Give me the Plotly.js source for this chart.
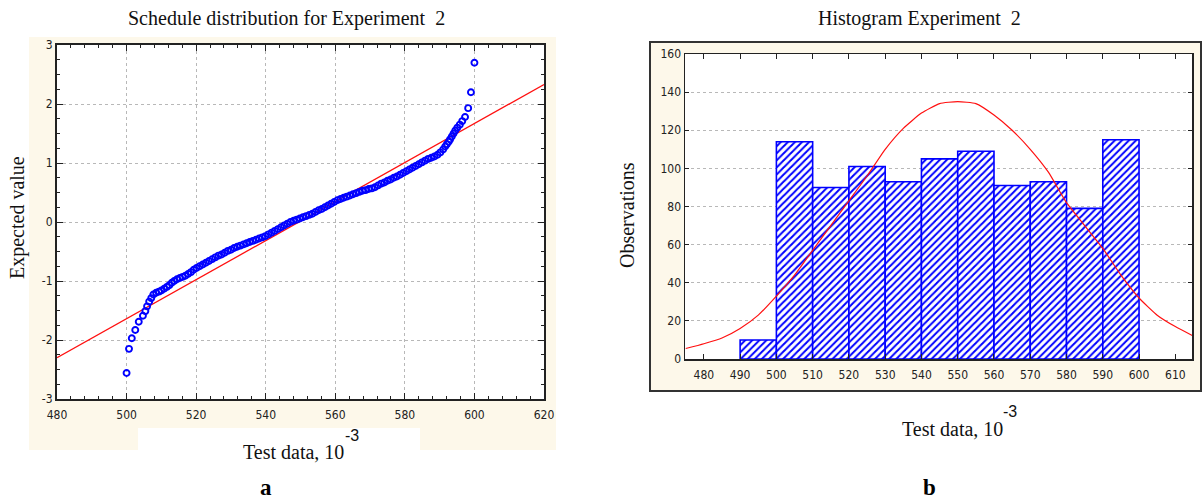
<!DOCTYPE html>
<html>
<head>
<meta charset="utf-8">
<script src="https://cdn.plot.ly/plotly-3.0.1.min.js"></script>
<style>
  html, body { margin: 0; padding: 0; background: #ffffff; }
  #chart { width: 1203px; height: 499px; }
</style>
</head>
<body>
<div id="chart"></div>
<script>
// ---------- Data ----------
// (a) normal probability plot: test data (x, in 10^-3) vs expected normal value
const qqX = [500.0, 500.7, 501.5, 502.5, 503.5, 504.7, 505.4, 505.9, 506.5, 507.1,
  507.7, 508.5, 509.3, 510.0, 510.8, 511.6, 512.3, 513.0, 513.7, 514.5,
  515.3, 516.1, 516.9, 517.7, 518.5, 519.3, 520.1, 521.0, 521.9, 522.8,
  523.7, 524.6, 525.5, 526.4, 527.3, 528.2, 529.1, 530.0, 530.9, 531.8,
  532.7, 533.6, 534.5, 535.4, 536.3, 537.2, 538.1, 539.0, 539.9, 540.8,
  541.7, 542.6, 543.5, 544.4, 545.3, 546.2, 547.1, 548.0, 548.9, 549.8,
  550.7, 551.6, 552.5, 553.4, 554.3, 555.2, 556.1, 557.0, 557.9, 558.8,
  559.7, 560.6, 561.5, 562.4, 563.3, 564.2, 565.1, 566.0, 566.9, 567.8,
  568.7, 569.6, 570.5, 571.4, 572.3, 573.2, 574.1, 575.0, 575.9, 576.8,
  577.7, 578.6, 579.5, 580.4, 581.3, 582.2, 583.1, 584.0, 584.9, 585.8,
  586.7, 587.6, 588.5, 589.4, 590.2, 591.0, 591.6, 592.1, 592.6, 593.0,
  593.5, 594.0, 594.5, 595.1, 595.8, 596.5, 597.3, 598.2, 599.0, 600.0];
const qqY = [-2.56, -2.15, -1.97, -1.83, -1.69, -1.59, -1.51, -1.43, -1.35, -1.29,
  -1.23, -1.20, -1.18, -1.16, -1.13, -1.10, -1.07, -1.03, -1.00, -0.97,
  -0.95, -0.93, -0.91, -0.88, -0.85, -0.81, -0.78, -0.75, -0.72, -0.69,
  -0.66, -0.63, -0.60, -0.57, -0.55, -0.52, -0.49, -0.47, -0.44, -0.42,
  -0.40, -0.38, -0.36, -0.34, -0.32, -0.30, -0.28, -0.26, -0.24, -0.21,
  -0.18, -0.15, -0.12, -0.09, -0.06, -0.03, 0.00, 0.02, 0.04, 0.06,
  0.08, 0.10, 0.12, 0.14, 0.17, 0.20, 0.22, 0.25, 0.28, 0.31,
  0.34, 0.37, 0.39, 0.41, 0.43, 0.45, 0.47, 0.49, 0.51, 0.53,
  0.54, 0.56, 0.57, 0.59, 0.62, 0.65, 0.67, 0.70, 0.72, 0.75,
  0.77, 0.80, 0.83, 0.86, 0.89, 0.92, 0.95, 0.98, 1.01, 1.04,
  1.07, 1.09, 1.11, 1.14, 1.18, 1.23, 1.28, 1.32, 1.36, 1.40,
  1.45, 1.50, 1.55, 1.60, 1.65, 1.71, 1.78, 1.93, 2.20, 2.70];
// reference (fitted) line of the probability plot
const fitX = [480, 620];
const fitY = [-2.30, 2.33];

// (b) histogram: bin centres and counts (bin width 10)
const binCenters = [495, 505, 515, 525, 535, 545, 555, 565, 575, 585, 595];
const counts = [10, 114, 90, 101, 93, 105, 109, 91, 93, 79, 115];
// fitted normal curve (expected observations)
const curveX = [475, 480, 485, 490, 495, 500, 505, 510, 515, 520, 525, 530, 535, 540, 545,
  550, 555, 560, 565, 570, 575, 580, 585, 590, 595, 600, 605, 610, 615];
const curveY = [5.5, 8, 11, 16, 23, 33, 44, 57, 70, 83, 96, 110, 121, 129, 134,
  135, 134, 128, 120, 110, 98, 82, 70, 58, 44, 32, 23, 17, 12];

// tick labels
const qqXTicks = [480, 500, 520, 540, 560, 580, 600, 620];
const qqYTicks = [-3, -2, -1, 0, 1, 2, 3];
const qqYLabels = ['-3', '-2', '-1', '0', '1', '2', '3'];
const histXTicks = [480, 490, 500, 510, 520, 530, 540, 550, 560, 570, 580, 590, 600, 610];
const histYTicks = [0, 20, 40, 60, 80, 100, 120, 140, 160];

// ---------- Layout helpers ----------
const W = 1203, H = 499;
const px = v => v / W;
const py = v => 1 - v / H;

const tickFont = { family: '"Liberation Sans Narrow", "DejaVu Sans Condensed", Arial, sans-serif', size: 12, color: '#222' };
const serif = '"Liberation Serif", "Times New Roman", serif';
const supFont = { family: '"Liberation Sans", Arial, sans-serif', size: 16, color: '#111' };

const traces = [
  {
    x: fitX, y: fitY, xaxis: 'x', yaxis: 'y', type: 'scatter', mode: 'lines',
    line: { color: '#ff1010', width: 1.3 }, hoverinfo: 'skip'
  },
  {
    x: qqX, y: qqY, xaxis: 'x', yaxis: 'y', type: 'scatter', mode: 'markers',
    marker: { symbol: 'circle-open', size: 6, color: '#0000ff', line: { color: '#0000ff', width: 1.9 } }
  },
  {
    x: binCenters, y: counts, xaxis: 'x2', yaxis: 'y2', type: 'bar', width: 10,
    marker: {
      color: '#ffffff',
      line: { color: '#0000ff', width: 1.6 },
      pattern: { shape: '/', fgcolor: '#0000ff', bgcolor: '#ffffff', size: 5, solidity: 0.4 }
    }
  },
  {
    x: curveX, y: curveY, xaxis: 'x2', yaxis: 'y2', type: 'scatter', mode: 'lines',
    line: { color: '#ff1010', width: 1.2, shape: 'spline', smoothing: 0.5 }, hoverinfo: 'skip'
  }
];

const layout = {
  width: W, height: H,
  margin: { l: 0, r: 0, t: 0, b: 0 },
  paper_bgcolor: '#ffffff', plot_bgcolor: '#ffffff',
  showlegend: false,
  bargap: 0,
  xaxis: {
    domain: [px(57), px(544)], range: [480, 620], anchor: 'y',
    tickvals: qqXTicks, ticks: 'inside', ticklen: 6, tickwidth: 1, tickcolor: '#222',
    minor: { dtick: 4, ticks: 'inside', ticklen: 3, tickcolor: '#222', showgrid: false },
    showline: true, linecolor: '#222', linewidth: 2, mirror: 'ticks',
    showgrid: true, gridcolor: '#b8b8b8', griddash: 'dot', gridwidth: 1,
    zeroline: false, tickfont: tickFont, ticklabelstandoff: 4
  },
  yaxis: {
    domain: [py(399), py(45)], range: [-3, 3], anchor: 'x',
    tickvals: qqYTicks, ticktext: qqYLabels, ticks: 'inside', ticklen: 6, tickcolor: '#222',
    minor: { dtick: 0.25, ticks: 'inside', ticklen: 3, tickcolor: '#222', showgrid: false },
    showline: true, linecolor: '#222', linewidth: 2, mirror: 'ticks',
    showgrid: true, gridcolor: '#b8b8b8', griddash: 'dot', gridwidth: 1,
    zeroline: false, tickfont: tickFont
  },
  xaxis2: {
    domain: [px(685), px(1192)], range: [474.8, 614.6], anchor: 'y2',
    tickvals: histXTicks, ticks: 'inside', ticklen: 5, tickcolor: '#222',
    showline: true, linecolor: '#222', linewidth: 1.5, mirror: 'ticks',
    showgrid: false, zeroline: false, tickfont: tickFont, ticklabelstandoff: 4
  },
  yaxis2: {
    domain: [py(359), py(54)], range: [0, 160], anchor: 'x2',
    tickvals: histYTicks, ticks: 'inside', ticklen: 4, tickcolor: '#222',
    showline: true, linecolor: '#222', linewidth: 1.5, mirror: 'ticks',
    showgrid: true, gridcolor: '#b8b8b8', griddash: 'dot', gridwidth: 1,
    zeroline: false, tickfont: tickFont
  },
  shapes: [
    // left cream panel
    { type: 'rect', xref: 'paper', yref: 'paper', layer: 'below',
      x0: px(29), x1: px(556), y0: py(450), y1: py(37),
      fillcolor: '#fdf8ea', line: { width: 0 } },
    // white plot area (left)
    { type: 'rect', xref: 'paper', yref: 'paper', layer: 'below',
      x0: px(57), x1: px(544), y0: py(399), y1: py(45),
      fillcolor: '#ffffff', line: { width: 0 } },
    // white strip behind the x title (left)
    { type: 'rect', xref: 'paper', yref: 'paper', layer: 'below',
      x0: px(138), x1: px(420), y0: py(452), y1: py(428),
      fillcolor: '#ffffff', line: { width: 0 } },
    // right framed cream panel
    { type: 'rect', xref: 'paper', yref: 'paper', layer: 'below',
      x0: px(650), x1: px(1201), y0: py(391), y1: py(42),
      fillcolor: '#fdf8ea', line: { color: '#333333', width: 2 } },
    // white plot area (right)
    { type: 'rect', xref: 'paper', yref: 'paper', layer: 'below',
      x0: px(685), x1: px(1192), y0: py(359), y1: py(54),
      fillcolor: '#ffffff', line: { width: 0 } }
  ],
  annotations: [
    { text: 'Schedule distribution for Experiment  2', xref: 'paper', yref: 'paper',
      x: px(286), y: py(18), showarrow: false, xanchor: 'center', yanchor: 'middle',
      font: { family: serif, size: 20, color: '#111' } },
    { text: 'Histogram Experiment  2', xref: 'paper', yref: 'paper',
      x: px(919), y: py(18), showarrow: false, xanchor: 'center', yanchor: 'middle',
      font: { family: serif, size: 20, color: '#111' } },
    { text: 'Expected value', xref: 'paper', yref: 'paper', textangle: -90,
      x: px(17), y: py(218), showarrow: false, xanchor: 'center', yanchor: 'middle',
      font: { family: serif, size: 20, color: '#111' } },
    { text: 'Observations', xref: 'paper', yref: 'paper', textangle: -90,
      x: px(627), y: py(215), showarrow: false, xanchor: 'center', yanchor: 'middle',
      font: { family: serif, size: 20, color: '#111' } },
    { text: 'Test data, 10', xref: 'paper', yref: 'paper',
      x: px(293), y: py(452), showarrow: false, xanchor: 'center', yanchor: 'middle',
      font: { family: serif, size: 20, color: '#111' } },
    { text: '-3', xref: 'paper', yref: 'paper',
      x: px(343), y: py(435), showarrow: false, xanchor: 'left', yanchor: 'middle',
      font: supFont },
    { text: 'Test data, 10', xref: 'paper', yref: 'paper',
      x: px(952), y: py(429), showarrow: false, xanchor: 'center', yanchor: 'middle',
      font: { family: serif, size: 20, color: '#111' } },
    { text: '-3', xref: 'paper', yref: 'paper',
      x: px(1001), y: py(411), showarrow: false, xanchor: 'left', yanchor: 'middle',
      font: supFont },
    { text: '<b>a</b>', xref: 'paper', yref: 'paper',
      x: px(266), y: py(487), showarrow: false, xanchor: 'center', yanchor: 'middle',
      font: { family: serif, size: 23, color: '#000' } },
    { text: '<b>b</b>', xref: 'paper', yref: 'paper',
      x: px(929), y: py(487), showarrow: false, xanchor: 'center', yanchor: 'middle',
      font: { family: serif, size: 23, color: '#000' } }
  ]
};

Plotly.newPlot('chart', traces, layout, { staticPlot: true, displayModeBar: false });
</script>
</body>
</html>
